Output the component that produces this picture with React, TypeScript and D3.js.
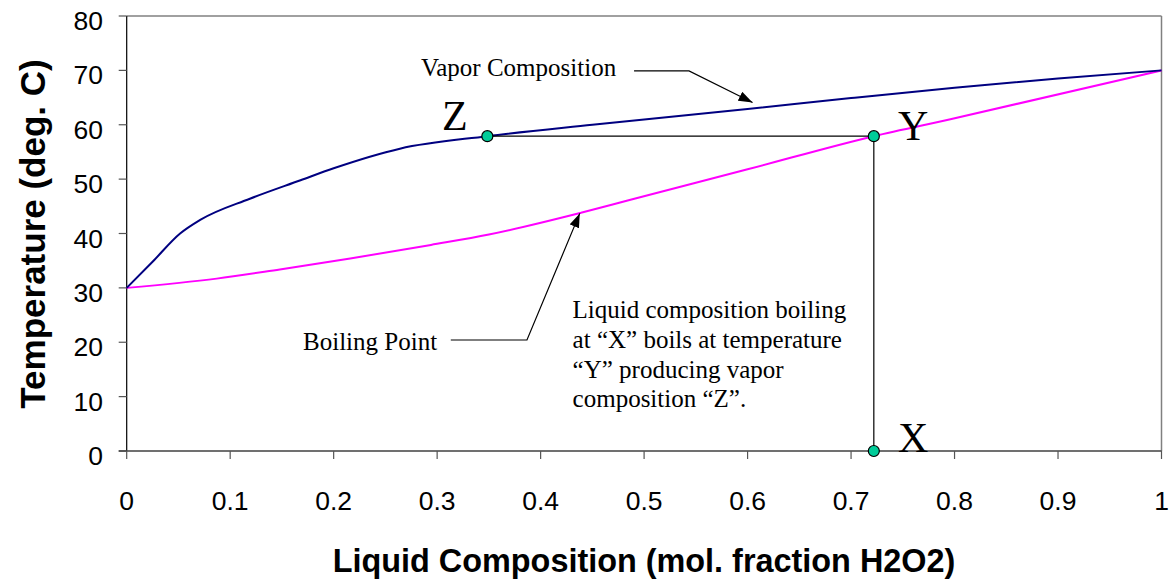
import React from "react";
import * as d3 from "d3";

const xTicks = [0, 0.1, 0.2, 0.3, 0.4, 0.5, 0.6, 0.7, 0.8, 0.9, 1];
const yTicks = [0, 10, 20, 30, 40, 50, 60, 70, 80];

const vaporX = [0, 0.025, 0.0516, 0.071, 0.119, 0.168, 0.2, 0.264, 0.3485, 0.45, 0.6, 0.7, 0.8, 0.9, 1];
const vaporY = [30, 34.8, 40, 42.5, 46.4, 49.8, 52, 55.6, 57.9, 60.0, 62.9, 64.9, 66.8, 68.5, 70];

const boilX = [0, 0.087, 0.148, 0.216, 0.294, 0.35, 0.439, 0.485, 0.6, 0.722, 0.796, 1];
const boilY = [30, 31.7, 33.4, 35.4, 37.9, 39.8, 43.8, 46.1, 51.8, 57.9, 61.0, 70];

const markerNames = ["Z", "Y", "X"];
const markerX = [0.3485, 0.722, 0.722];
const markerY = [57.9, 57.9, 0];
const markerLabelX = [0.3047, 0.7454, 0.7454];
const markerLabelY = [59.0, 57.2, -0.2];

const paragraph = [
  "Liquid composition boiling",
  "at \u201cX\u201d boils at temperature",
  "\u201cY\u201d producing vapor",
  "composition \u201cZ\u201d.",
];
const paragraphX = 0.4309;
const paragraphY = [24.4, 18.9, 13.37, 8.15];

const vaporLabel = "Vapor Composition";
const vaporLabelPos = [0.2844, 68.97];
const vaporLeader = [[0.4903, 69.9], [0.5434, 69.9], [0.6048, 64.1]];

const boilLabel = "Boiling Point";
const boilLabelPos = [0.1704, 18.57];
const boilLeader = [[0.3132, 20.41], [0.3868, 20.41], [0.4378, 43.7]];

const W = 1169;
const H = 580;

export default function App() {
  const x = d3.scaleLinear().domain([0, 1]).range([126.7, 1161.5]);
  const y = d3.scaleLinear().domain([0, 80]).range([451, 16]);
  const line = d3
    .line<[number, number]>()
    .x((d) => x(d[0]))
    .y((d) => y(d[1]))
    .curve(d3.curveMonotoneX);
  const poly = d3
    .line<number[]>()
    .x((d) => x(d[0]))
    .y((d) => y(d[1]));
  const vapor = vaporX.map((v, i) => [v, vaporY[i]] as [number, number]);
  const boil = boilX.map((v, i) => [v, boilY[i]] as [number, number]);
  const serif = "'Liberation Serif', 'Times New Roman', serif";
  const sans = "'Liberation Sans', Arial, sans-serif";
  const x0 = x(0);
  const x1 = x(1);
  const y0 = y(0);
  const yTop = y(80);

  return (
    <svg
      width={W}
      height={H}
      style={{ position: "absolute", left: 0, top: 0, background: "#fff" }}
    >
      <defs>
        <marker
          id="arrow"
          viewBox="0 0 14 10"
          refX="14"
          refY="5"
          markerWidth="14"
          markerHeight="10"
          markerUnits="userSpaceOnUse"
          orient="auto"
        >
          <path d="M0,0 L14,5 L0,10 Z" fill="#000" />
        </marker>
      </defs>
      <rect x={0} y={0} width={W} height={H} fill="#fff" />
      {/* plot frame */}
      <line x1={x0} x2={x1} y1={yTop} y2={yTop} stroke="#808080" strokeWidth={1.5} />
      <line x1={x1} x2={x1} y1={yTop} y2={y0} stroke="#808080" strokeWidth={1.5} />
      {/* y axis */}
      <line x1={x0} x2={x0} y1={yTop} y2={y0} stroke="#000" strokeWidth={1.2} />
      {yTicks.map((t) => (
        <g key={"y" + t}>
          <line x1={x0 - 8} x2={x0} y1={y(t)} y2={y(t)} stroke="#555" strokeWidth={1.2} />
          <text
            x={103}
            y={y(t) + 14}
            textAnchor="end"
            fontFamily={sans}
            fontSize={26.5}
            fill="#000"
          >
            {t}
          </text>
        </g>
      ))}
      {/* x axis */}
      <line x1={x0 - 8} x2={x1} y1={y0} y2={y0} stroke="#404040" strokeWidth={1.5} />
      {xTicks.map((t) => (
        <g key={"x" + t}>
          <line x1={x(t)} x2={x(t)} y1={y0} y2={y0 + 8} stroke="#555" strokeWidth={1.2} />
          <text
            x={x(t)}
            y={510}
            textAnchor="middle"
            fontFamily={sans}
            fontSize={26.5}
            fill="#000"
          >
            {t}
          </text>
        </g>
      ))}
      {/* axis titles */}
      <text
        x={644}
        y={572}
        textAnchor="middle"
        fontFamily={sans}
        fontWeight="bold"
        fontSize={32.4}
        fill="#000"
      >
        Liquid Composition (mol. fraction H2O2)
      </text>
      <text
        transform={`translate(45,234) rotate(-90)`}
        textAnchor="middle"
        fontFamily={sans}
        fontWeight="bold"
        fontSize={35}
        fill="#000"
      >
        Temperature (deg. C)
      </text>
      {/* curves */}
      <path d={line(boil) || ""} fill="none" stroke="#ff00ff" strokeWidth={2} />
      <path d={line(vapor) || ""} fill="none" stroke="#000080" strokeWidth={2} />
      {/* guide lines */}
      <line
        x1={x(markerX[0])}
        x2={x(markerX[1])}
        y1={y(markerY[0])}
        y2={y(markerY[1])}
        stroke="#000"
        strokeWidth={1.2}
      />
      <line
        x1={x(markerX[1])}
        x2={x(markerX[2])}
        y1={y(markerY[1])}
        y2={y(markerY[2])}
        stroke="#000"
        strokeWidth={1.2}
      />
      {/* annotations */}
      <text
        x={x(vaporLabelPos[0])}
        y={y(vaporLabelPos[1])}
        fontFamily={serif}
        fontSize={25}
        fill="#000"
      >
        {vaporLabel}
      </text>
      <path d={poly(vaporLeader) || ""} fill="none" stroke="#000" strokeWidth={1.2} markerEnd="url(#arrow)" />
      <text
        x={x(boilLabelPos[0])}
        y={y(boilLabelPos[1])}
        fontFamily={serif}
        fontSize={25}
        fill="#000"
      >
        {boilLabel}
      </text>
      <path d={poly(boilLeader) || ""} fill="none" stroke="#000" strokeWidth={1.2} markerEnd="url(#arrow)" />
      {paragraph.map((s, i) => (
        <text
          key={"p" + i}
          x={x(paragraphX)}
          y={y(paragraphY[i])}
          fontFamily={serif}
          fontSize={25}
          fill="#000"
        >
          {s}
        </text>
      ))}
      {/* markers */}
      {markerNames.map((n, i) => (
        <g key={n}>
          <circle
            cx={x(markerX[i])}
            cy={y(markerY[i])}
            r={5.5}
            fill="#00cc99"
            stroke="#000"
            strokeWidth={1.2}
          />
          <text
            x={x(markerLabelX[i])}
            y={y(markerLabelY[i])}
            fontFamily={serif}
            fontSize={42}
            fill="#000"
          >
            {n}
          </text>
        </g>
      ))}
    </svg>
  );
}
